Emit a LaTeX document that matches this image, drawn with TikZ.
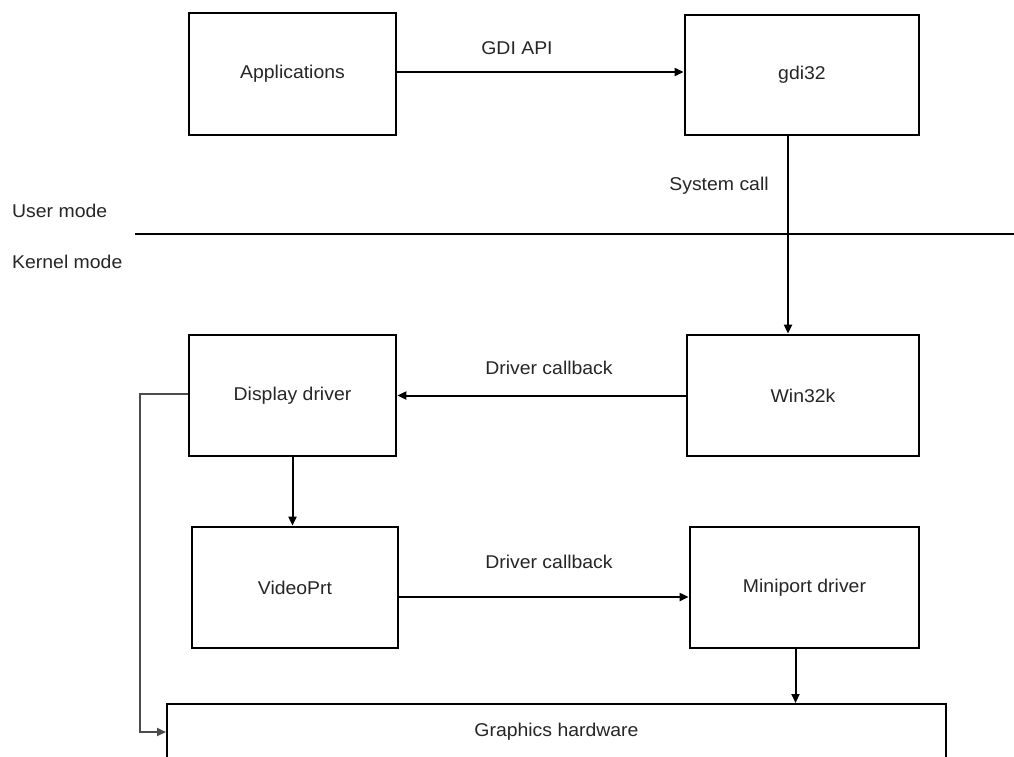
\documentclass[tikz,border=0pt]{standalone}
\usepackage{fontspec}
\setmainfont{Liberation Sans}[FakeStretch=1.05]
\usetikzlibrary{arrows.meta}
\begin{document}
\begin{tikzpicture}[x=1pt,y=-1pt,
  font=\fontsize{18.5}{21}\selectfont,
  box/.style={draw, line width=2.8pt, fill=white, inner sep=0pt, text=black!85},
  conn/.style={line width=2pt, -{Triangle[length=9pt,width=8pt]}},
  lbl/.style={inner sep=0pt, text=black!85}]
\clip (0,0) rectangle (1014,756);
\fill[white] (0,0) rectangle (1014,756);
% boxes
\node[box, minimum width=207pt, minimum height=122pt] (app) at (292.5,74) {Applications};
\node[box, minimum width=234pt, minimum height=120pt] (gdi) at (802,75) {gdi32};
\node[box, minimum width=232pt, minimum height=121pt] (w32) at (803,395.5) {Win32k};
\node[box, minimum width=207pt, minimum height=121pt] (dd) at (292.5,395.5) {Display driver};
\node[box, minimum width=206pt, minimum height=121pt] (vp) at (295,587.5) {VideoPrt};
\node[box, minimum width=229pt, minimum height=121pt] (mp) at (804.5,587.5) {Miniport driver};
\node[draw, line width=2pt, fill=white, text=black!85, anchor=north west, minimum width=779pt,
      inner xsep=0pt, inner ysep=19pt, text height=13pt, text depth=50pt] (hw) at (166,703) {Graphics hardware};
% separator
\coordinate (s1) at (135,234);
\coordinate (s2) at (1014,234);
\draw[line width=1.8pt] (s1) -- (s2);
\node[lbl, anchor=west] (um) at (12,211) {User mode};
\node[lbl, anchor=west] (km) at (12,262) {Kernel mode};
% connectors
\draw[conn] (app.east |- 0,72) -- (gdi.west |- 0,72);
\node[lbl] (l1) at (517,48) {GDI API};
\draw[conn] ([xshift=-14pt]gdi.south) -- ([xshift=-14pt]gdi.south |- w32.north);
\node[lbl] (l2) at (719,186) {System call};
\draw[conn] (w32.west) -- (dd.east |- w32.west);
\node[lbl] (l3) at (549,368) {Driver callback};
\draw[conn] (dd.south) -- (dd.south |- vp.north);
\draw[conn] (vp.east |- 0,597) -- (mp.west |- 0,597);
\node[lbl] (l4) at (549,562) {Driver callback};
\draw[conn] ([xshift=-9pt]mp.south) -- ([xshift=-9pt]mp.south |- hw.north);
\coordinate (c1) at (140,394);
\coordinate (c2) at (140,732);
\draw[line width=1.8pt, black!70, -{Triangle[length=9pt,width=8pt]}] (dd.west |- c1) -- (c1) -- (c2) -- (hw.west |- c2);
\end{tikzpicture}
\end{document}
